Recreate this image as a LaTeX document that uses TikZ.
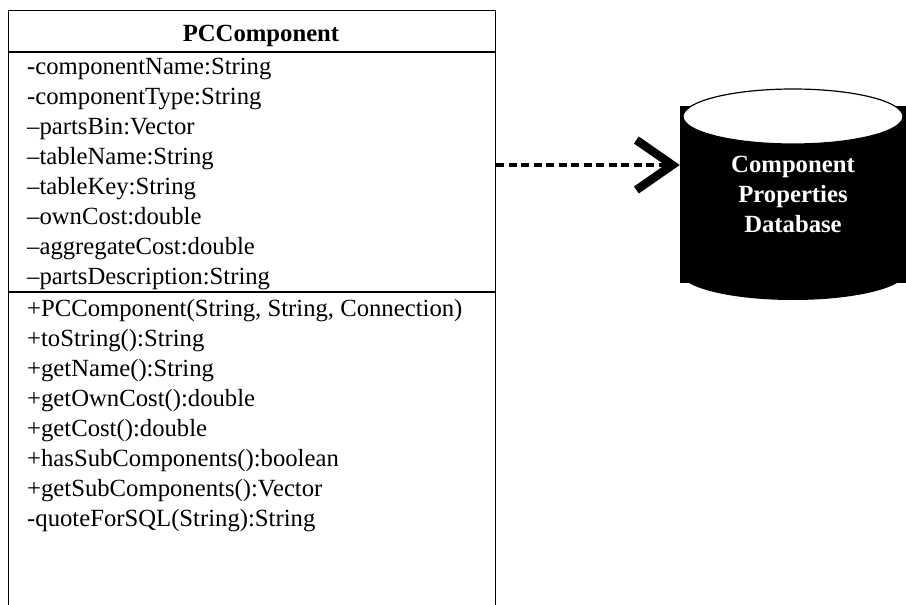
\documentclass[tikz,border=0pt]{standalone}
\usepackage{fontspec}
\setmainfont{Liberation Serif}
\usetikzlibrary{arrows.meta, positioning}

\begin{document}
\begin{tikzpicture}[
        x=1pt, y=-1pt,
        umltext/.style = {font=\fontsize{24.7}{30}\selectfont, inner sep=0pt},
        member/.style = {umltext, anchor=base west},
        classname/.style = {umltext, font=\fontsize{24.7}{30}\selectfont\bfseries, anchor=base},
        classbox/.style = {draw, line width=1.2pt, anchor=north west, minimum width=487pt, minimum height=620pt, inner sep=0pt},
        database/.style = {fill=black, text=white, align=center, inner sep=0pt, minimum width=226pt, minimum height=177pt, font=\fontsize{24.7}{30}\selectfont\bfseries},
        dep/.style = {line width=4pt, dash pattern=on 8pt off 4.5pt, -{Straight Barb[length=36pt, width=50pt, line width=8.5pt]}}
    ]
\path[use as bounding box, clip] (0,0) rectangle (906,605);

\coordinate (hdr) at (0,52);
\coordinate (sep) at (0,292);
\coordinate (link) at (0,165);

% class box, open at the bottom of the page
\node[classbox] (cls) at (8,10) {};
\node[classname] (name) at (261,41.7) {PCComponent};
\draw[line width=1.2pt] (cls.west |- hdr) -- (cls.east |- hdr);
\draw[line width=1.2pt] (cls.west |- sep) -- (cls.east |- sep);

% attributes
\foreach \m [count=\i from 0] in {-componentName:String, -componentType:String, –partsBin:Vector, –tableName:String, –tableKey:String, –ownCost:double, –aggregateCost:double, –partsDescription:String}
    \node[member] (attr\i) at (27,74+30*\i) {\m};

% operations
\foreach \m [count=\i from 0] in {{+PCComponent(String, String, Connection)}, +toString():String, +getName():String, +getOwnCost():double, +getCost():double, +hasSubComponents():boolean, +getSubComponents():Vector, -quoteForSQL(String):String}
    \node[member] (op\i) at (27,316.7+30*\i) {\m};

% database
\fill (793,272) ellipse [x radius=113pt, y radius=28pt];
\node[database] (db) at (793,194.5) {Component\\Properties\\Database};
\draw[line width=1.2pt, fill=white] (793,116.5) ellipse [x radius=110pt, y radius=27.5pt];

\draw[dep] (cls.east |- link) -- (db.west |- link);
\end{tikzpicture}
\end{document}
